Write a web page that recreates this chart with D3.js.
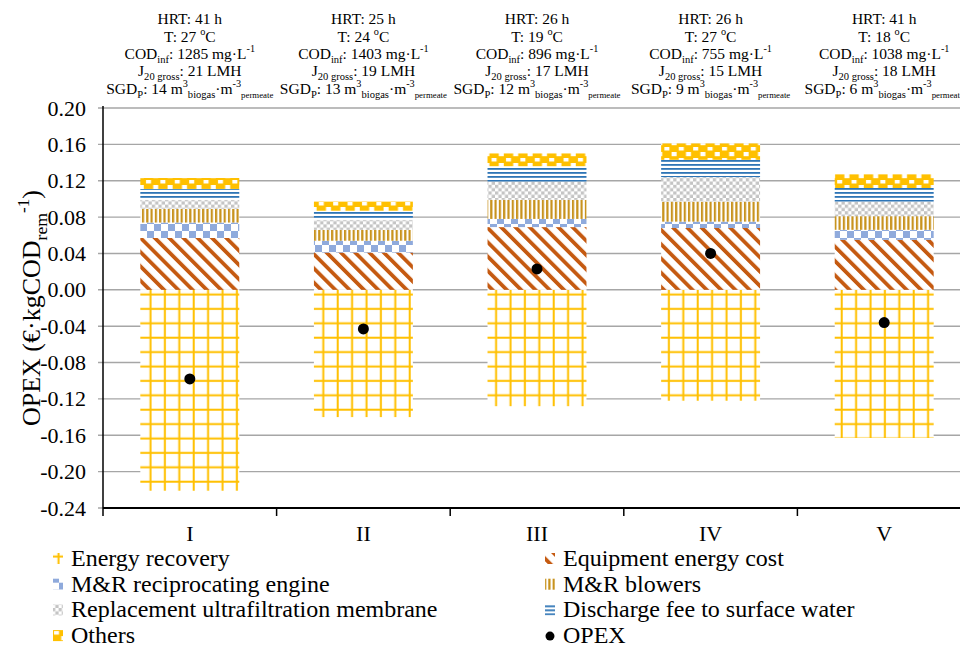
<!DOCTYPE html>
<html>
<head>
<meta charset="utf-8">
<script src="https://cdn.jsdelivr.net/npm/d3@7"></script>
<style>
  body { margin: 0; background: #fff; }
  text { font-family: "Liberation Serif", "Times New Roman", serif; fill: #000; }
</style>
</head>
<body>
<div id="chart"></div>
<script>
// values
const categories = ["I", "II", "III", "IV", "V"]
const energyRecovery = [-0.221, -0.140, -0.128, -0.122, -0.163]
const equipmentEnergy = [0.057, 0.041, 0.069, 0.068, 0.055]
const mrEngine = [0.017, 0.013, 0.009, 0.007, 0.011]
const mrBlowers = [0.015, 0.012, 0.021, 0.022, 0.015]
const membrane = [0.010, 0.011, 0.020, 0.027, 0.016]
const discharge = [0.012, 0.010, 0.017, 0.019, 0.015]
const others = [0.012, 0.010, 0.014, 0.018, 0.015]
const opex = [-0.098, -0.043, 0.023, 0.040, -0.036]
const yTicks = [-0.24, -0.20, -0.16, -0.12, -0.08, -0.04, 0, 0.04, 0.08, 0.12, 0.16, 0.20]

// operating conditions above each bar
const hrt = [41, 25, 26, 26, 41]
const temp = [27, 24, 19, 27, 18]
const codInf = [1285, 1403, 896, 755, 1038]
const jGross = [21, 19, 17, 15, 18]
const sgdP = [14, 13, 12, 9, 6]

const width = 960
const height = 647
const margin = {top: 108, right: -11, bottom: 139, left: 103}

const svg = d3.select("#chart").append("svg")
    .attr("width", width)
    .attr("height", height)

const x = d3.scaleBand()
    .domain(categories)
    .range([margin.left, width - margin.right])
    .paddingInner(0.43)
    .paddingOuter(0.215)

const y = d3.scaleLinear()
    .domain([-0.24, 0.20])
    .range([height - margin.bottom, margin.top])

// ---- fill patterns ----
const defs = svg.append("defs")
const yellow = "#FFC000"
const patternDefs = {
    pEnergy: [14.4, 14.4, null, p => {
        p.append("rect").attr("x", 5.5).attr("y", 0).attr("width", 2).attr("height", 14.4).attr("fill", yellow)
        p.append("rect").attr("x", 0).attr("y", 5.5).attr("width", 14.4).attr("height", 2).attr("fill", yellow)
    }],
    pEquip: [10.1, 10.1, "rotate(-45)", p => {
        p.append("rect").attr("x", 0).attr("y", 0).attr("width", 3.8).attr("height", 10.1).attr("fill", "#C55A11")
    }],
    pEngine: [14, 14, null, p => {
        p.append("rect").attr("x", 0).attr("y", 0).attr("width", 7).attr("height", 7).attr("fill", "#8FAADC")
        p.append("rect").attr("x", 7).attr("y", 7).attr("width", 7).attr("height", 7).attr("fill", "#8FAADC")
    }],
    pBlowers: [4.3, 10, null, p => {
        p.append("rect").attr("x", 0).attr("y", 0).attr("width", 2.2).attr("height", 10).attr("fill", "#C8931E")
    }],
    pMembrane: [6.6, 6.6, null, p => {
        p.append("rect").attr("x", 0).attr("y", 0).attr("width", 3.3).attr("height", 3.3).attr("fill", "#C4C4C4")
        p.append("rect").attr("x", 3.3).attr("y", 3.3).attr("width", 3.3).attr("height", 3.3).attr("fill", "#C4C4C4")
    }],
    pDischarge: [10, 4, null, p => {
        p.append("rect").attr("x", 0).attr("y", 0).attr("width", 10).attr("height", 1.8).attr("fill", "#2E75B6")
    }],
    pOthers: [14.4, 11, null, p => {
        p.append("rect").attr("width", 14.4).attr("height", 11).attr("fill", yellow)
        p.append("rect").attr("x", 2).attr("y", 4).attr("width", 5).attr("height", 3.5).attr("fill", "#fff")
        p.append("rect").attr("x", 9.2).attr("y", 0).attr("width", 5).attr("height", 2.2).attr("fill", "#fff")
        p.append("rect").attr("x", 9.2).attr("y", 9).attr("width", 5).attr("height", 2).attr("fill", "#fff")
    }]
}
function pattern(id, ox, oy) {
    const [w, h, transform, draw] = patternDefs[id]
    const p = defs.append("pattern")
        .attr("id", id + (ox != null ? "L" : ""))
        .attr("patternUnits", "userSpaceOnUse")
        .attr("width", w)
        .attr("height", h)
    if (ox != null) p.attr("x", ox).attr("y", oy)
    if (transform) p.attr("patternTransform", transform)
    p.append("rect").attr("width", w).attr("height", h).attr("fill", "#fff")
    draw(p)
}
Object.keys(patternDefs).forEach(id => pattern(id))

// ---- gridlines and y axis ----
svg.append("g")
    .selectAll("line")
    .data(yTicks)
    .enter()
    .append("line")
    .attr("x1", margin.left - 5)
    .attr("x2", width)
    .attr("y1", d => y(d))
    .attr("y2", d => y(d))
    .attr("stroke", "#A6A6A6")
    .attr("stroke-width", 1.4)

const yAxis = svg.append("g")
    .attr("transform", "translate(" + margin.left + ",0)")
    .call(d3.axisLeft(y).tickValues(yTicks).tickSize(0).tickPadding(17)
        .tickFormat(d => d.toFixed(2)))
yAxis.select(".domain").remove()
yAxis.selectAll("text")
    .style("font-family", "Liberation Serif")
    .style("font-size", "22px")
    .attr("fill", "#000")

svg.append("line")
    .attr("x1", margin.left).attr("x2", margin.left)
    .attr("y1", y(0.20) - 2).attr("y2", y(-0.24))
    .attr("stroke", "#000").attr("stroke-width", 1.5)

// ---- bars ----
const positive = [
    {key: "equip", values: equipmentEnergy, fill: "url(#pEquip)"},
    {key: "engine", values: mrEngine, fill: "url(#pEngine)"},
    {key: "blowers", values: mrBlowers, fill: "url(#pBlowers)"},
    {key: "membrane", values: membrane, fill: "url(#pMembrane)"},
    {key: "discharge", values: discharge, fill: "url(#pDischarge)"},
    {key: "others", values: others, fill: "url(#pOthers)"}
]
const table = categories.map((c, i) => {
    const row = {cat: c}
    positive.forEach(s => row[s.key] = s.values[i])
    return row
})
const stacked = d3.stack().keys(positive.map(s => s.key))(table)

const bars = svg.append("g")
bars.selectAll("rect.neg")
    .data(categories)
    .enter()
    .append("rect")
    .attr("class", "neg")
    .attr("x", d => x(d))
    .attr("width", x.bandwidth())
    .attr("y", y(0))
    .attr("height", (d, i) => y(energyRecovery[i]) - y(0))
    .attr("fill", "url(#pEnergy)")

stacked.forEach((layer, li) => {
    bars.append("g")
        .selectAll("rect")
        .data(layer)
        .enter()
        .append("rect")
        .attr("x", d => x(d.data.cat))
        .attr("width", x.bandwidth())
        .attr("y", d => y(d[1]))
        .attr("height", d => y(d[0]) - y(d[1]))
        .attr("fill", positive[li].fill)
})

// ---- x axis ----
const xBase = y(-0.24)
svg.append("line")
    .attr("x1", margin.left).attr("x2", width)
    .attr("y1", xBase).attr("y2", xBase)
    .attr("stroke", "#000").attr("stroke-width", 2)
svg.append("g")
    .selectAll("line")
    .data(categories.concat(["end"]))
    .enter()
    .append("line")
    .attr("x1", (d, i) => margin.left + x.step() * i)
    .attr("x2", (d, i) => margin.left + x.step() * i)
    .attr("y1", xBase).attr("y2", xBase + 8)
    .attr("stroke", "#000").attr("stroke-width", 1.5)
svg.append("g")
    .selectAll("text")
    .data(categories)
    .enter()
    .append("text")
    .attr("x", d => x(d) + x.bandwidth() / 2)
    .attr("y", xBase + 33)
    .attr("text-anchor", "middle")
    .style("font-size", "22px")
    .text(d => d)

// ---- OPEX points ----
svg.append("g")
    .selectAll("circle")
    .data(opex)
    .enter()
    .append("circle")
    .attr("cx", (d, i) => x(categories[i]) + x.bandwidth() / 2)
    .attr("cy", d => y(d))
    .attr("r", 5.5)
    .attr("fill", "#000")

// ---- rich text helper (sub/superscripts) ----
function rich(textSel, parts, base) {
    let offset = 0
    parts.forEach(p => {
        const [str, kind, size] = p
        let target = 0
        let fs = base
        if (kind === "sup") { target = -base * 0.42; fs = size || base * 0.66 }
        if (kind === "sub") { target = base * 0.28; fs = size || base * 0.68 }
        textSel.append("tspan")
            .attr("dy", target - offset)
            .style("font-size", fs + "px")
            .text(str)
        offset = target
    })
}

// ---- annotations above the bars ----
const annoSize = 15.5
const lineY = [24, 42, 59, 76, 94]
categories.forEach((c, i) => {
    const cx = x(c) + x.bandwidth() / 2
    const lines = [
        [["HRT: " + hrt[i] + " h"]],
        [["T: " + temp[i] + " "], ["o", "sup"], ["C"]],
        [["COD"], ["inf", "sub"], [": " + codInf[i] + " mg·L"], ["-1", "sup"]],
        [["J"], ["20 gross", "sub"], [": " + jGross[i] + " LMH"]],
        [["SGD"], ["P", "sub"], [": " + sgdP[i] + " m"], ["3", "sup"], ["biogas", "sub"], ["·m"], ["-3", "sup"], ["permeate", "sub", 8.8]]
    ]
    lines.forEach((parts, li) => {
        const t = svg.append("text")
            .attr("x", cx)
            .attr("y", lineY[li])
            .attr("text-anchor", "middle")
            .style("font-size", annoSize + "px")
        rich(t, parts.map(p => [p[0], p[1] || "n", p[2]]), annoSize)
    })
})

// ---- y axis title ----
const yTitle = svg.append("text")
    .attr("transform", "translate(40," + (y(-0.02)) + ") rotate(-90)")
    .attr("text-anchor", "middle")
    .style("font-size", "26px")
rich(yTitle, [["OPEX (€·kgCOD", "n"], ["rem", "sub"], ["-1", "sup"], [")", "n"]], 26)

// ---- legend ----
const legendItems = [
    {label: "Energy recovery", pat: "pEnergy", col: 0, row: 0},
    {label: "M&R reciprocating engine", pat: "pEngine", col: 0, row: 1},
    {label: "Replacement ultrafiltration membrane", pat: "pMembrane", col: 0, row: 2},
    {label: "Others", pat: "pOthers", col: 0, row: 3},
    {label: "Equipment energy cost", pat: "pEquip", col: 1, row: 0},
    {label: "M&R blowers", pat: "pBlowers", col: 1, row: 1},
    {label: "Discharge fee to surface water", pat: "pDischarge", col: 1, row: 2},
    {label: "OPEX", dot: true, col: 1, row: 3}
]
const legendX = [53, 545]
const legendY = 566
const legendStep = 25.7
const legend = svg.append("g")
legendItems.forEach(it => {
    const lx = legendX[it.col]
    const ly = legendY + it.row * legendStep
    if (it.dot) {
        legend.append("circle").attr("cx", lx + 5).attr("cy", ly - 7).attr("r", 4.5).attr("fill", "#000")
    } else {
        pattern(it.pat, lx - 1, ly - 16)
        legend.append("rect")
            .attr("x", lx).attr("y", ly - 13)
            .attr("width", 10).attr("height", 11)
            .attr("fill", "url(#" + it.pat + "L)")
    }
    legend.append("text")
        .attr("x", lx + 18)
        .attr("y", ly)
        .style("font-size", "24px")
        .text(it.label)
})
</script>
</body>
</html>
